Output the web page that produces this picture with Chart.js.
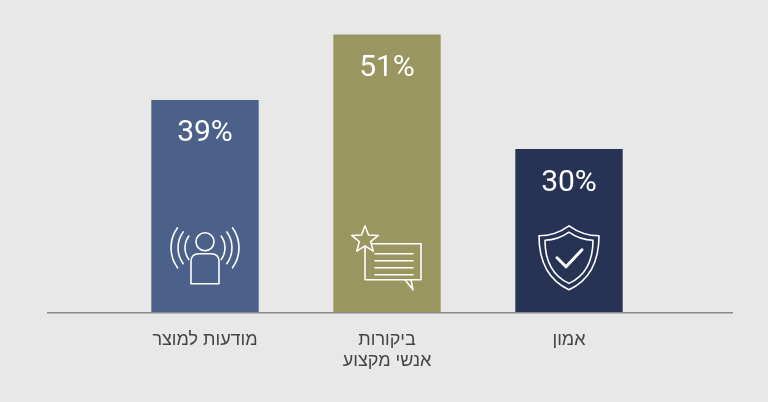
<!DOCTYPE html>
<html><head><meta charset="utf-8">
<script src="https://cdn.jsdelivr.net/npm/chart.js@4"></script>
<style>html,body{margin:0;background:#e8e8e8;}#w{width:768px;height:402px;}</style>
</head><body><div id="w"><canvas id="c"></canvas></div>
<script>
const categories = [["מודעות למוצר"], ["ביקורות", "אנשי מקצוע"], ["אמון"]];
const values = [39, 51, 30];
const colors = ["#4b6189", "#9a9660", "#263354"];

function drawIcon(ctx, i, x, y) {
  ctx.save(); ctx.strokeStyle = "#fff"; ctx.lineWidth = 1.6; ctx.lineJoin = "round"; ctx.lineCap = "round";
  if (i === 0) {
    ctx.beginPath(); ctx.arc(x, y - 16, 9, 0, Math.PI * 2); ctx.stroke();
    ctx.beginPath(); ctx.moveTo(x - 14, y + 26); ctx.lineTo(x - 14, y + 4); ctx.quadraticCurveTo(x - 14, y - 4, x - 6, y - 4);
    ctx.lineTo(x + 6, y - 4); ctx.quadraticCurveTo(x + 14, y - 4, x + 14, y + 4); ctx.lineTo(x + 14, y + 26); ctx.closePath(); ctx.stroke();
    for (const r of [20, 27, 34]) {
      ctx.beginPath(); ctx.arc(x, y - 10, r, Math.PI * 0.8, Math.PI * 1.2); ctx.stroke();
      ctx.beginPath(); ctx.arc(x, y - 10, r, -Math.PI * 0.2, Math.PI * 0.2); ctx.stroke();
    }
  } else if (i === 1) {
    ctx.beginPath(); ctx.rect(x - 22, y - 14, 56, 36); ctx.stroke();
    ctx.beginPath(); ctx.moveTo(x + 18, y + 22); ctx.lineTo(x + 26, y + 32); ctx.lineTo(x + 24, y + 22); ctx.stroke();
    for (let k = 0; k < 4; k++) { ctx.beginPath(); ctx.moveTo(x - 12, y - 4 + k * 7); ctx.lineTo(x + 26, y - 4 + k * 7); ctx.stroke(); }
    ctx.beginPath();
    for (let k = 0; k < 10; k++) { const r = k % 2 ? 6 : 14, a = -Math.PI / 2 + k * Math.PI / 5; ctx.lineTo(x - 22 + r * Math.cos(a), y - 18 + r * Math.sin(a)); }
    ctx.closePath(); ctx.fillStyle = colors[1]; ctx.fill(); ctx.stroke();
  } else {
    for (const s of [1, 0.8]) {
      ctx.beginPath(); ctx.moveTo(x, y - 32 * s); ctx.quadraticCurveTo(x + 14 * s, y - 22 * s, x + 30 * s, y - 22 * s);
      ctx.quadraticCurveTo(x + 30 * s, y + 18 * s, x, y + 32 * s); ctx.quadraticCurveTo(x - 30 * s, y + 18 * s, x - 30 * s, y - 22 * s);
      ctx.quadraticCurveTo(x - 14 * s, y - 22 * s, x, y - 32 * s); ctx.closePath(); ctx.stroke();
    }
    ctx.beginPath(); ctx.moveTo(x - 12, y); ctx.lineTo(x - 3, y + 9); ctx.lineTo(x + 13, y - 8); ctx.lineWidth = 3; ctx.stroke();
  }
  ctx.restore();
}

const deco = {
  id: "deco",
  afterDatasetsDraw(chart) {
    const ctx = chart.ctx, meta = chart.getDatasetMeta(0), yb = chart.scales.y.getPixelForValue(0);
    ctx.save();
    ctx.strokeStyle = "#8a8a8a"; ctx.lineWidth = 1.5;
    ctx.beginPath(); ctx.moveTo(47, yb); ctx.lineTo(733, yb); ctx.stroke();
    ctx.fillStyle = "#fff"; ctx.font = "30px Roboto, 'Liberation Sans', sans-serif"; ctx.textAlign = "center"; ctx.textBaseline = "middle";
    meta.data.forEach((b, i) => {
      ctx.fillText(values[i] + "%", b.x, b.y + 34);
      drawIcon(ctx, i, b.x, yb - 55);
    });
    ctx.restore();
  }
};

new Chart(document.getElementById("c"), {
  type: "bar",
  data: { labels: categories, datasets: [{ data: values, backgroundColor: colors, barPercentage: 0.59, categoryPercentage: 1 }] },
  options: {
    responsive: true, maintainAspectRatio: false, animation: false,
    layout: { padding: { left: 114, right: 108, top: 0, bottom: 14 } },
    plugins: { legend: { display: false }, tooltip: { enabled: false } },
    scales: {
      x: { grid: { display: false, drawTicks: false }, border: { display: false },
           ticks: { color: "#444", padding: 16, font: { size: 18, family: "'Liberation Sans', 'DejaVu Sans', sans-serif" } } },
      y: { display: false, min: 0, max: 57.3 }
    }
  },
  plugins: [deco]
});
</script></body></html>
